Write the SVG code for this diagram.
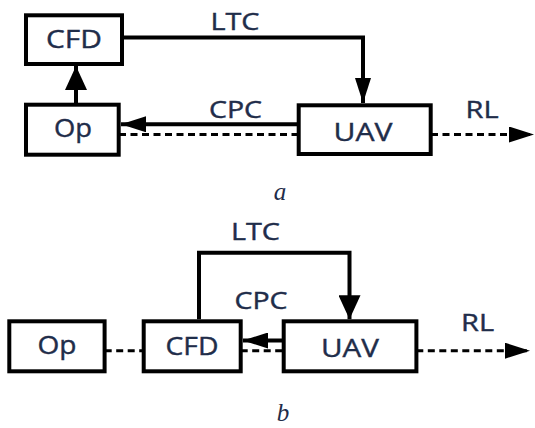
<svg xmlns="http://www.w3.org/2000/svg" width="535" height="428" viewBox="0 0 535 428">
<style>
.box{fill:#fff;stroke:#000;stroke-width:4}
.lbl{font-family:"Open Sans","DejaVu Sans",sans-serif;font-size:25px;fill:#1f2d4a;text-anchor:middle;stroke:#1f2d4a;stroke-width:0.4}
.clbl{font-family:"Open Sans","DejaVu Sans",sans-serif;font-size:23px;fill:#1f2d4a;text-anchor:middle;stroke:#1f2d4a;stroke-width:0.4}
.cap{font-family:"Liberation Serif",serif;font-style:italic;font-size:25px;fill:#1f2d4a;text-anchor:middle}
.solid{fill:none;stroke:#000;stroke-width:4}
.dash{fill:none;stroke:#000;stroke-width:3;stroke-dasharray:7 4.5}
</style>
<defs>
<marker id="big" markerUnits="userSpaceOnUse" markerWidth="24" markerHeight="22" refX="24" refY="11" orient="auto">
<path d="M0,0 L24,11 L0,22 z" fill="#000"/>
</marker>
<marker id="slim" markerUnits="userSpaceOnUse" markerWidth="25" markerHeight="16" refX="25" refY="8" orient="auto">
<path d="M0,0 L25,8 L0,16 z" fill="#000"/>
</marker>
</defs>
<g id="connectors">
<!-- part a -->
<path class="solid" d="M76,105 V66" marker-end="url(#big)"/>
<path class="solid" d="M122,37.5 H363 V103" marker-end="url(#slim)"/>
<path class="solid" d="M299,124.3 H121" marker-end="url(#slim)"/>
<path class="dash" d="M119,134.5 H299"/>
<path class="dash" d="M431,134.5 H534" marker-end="url(#slim)"/>
<!-- part b -->
<path class="solid" d="M199,319.3 V252.7 H349.5 V319.3" marker-end="url(#big)"/>
<path class="solid" d="M283.7,340.5 H243" marker-end="url(#slim)"/>
<path class="dash" d="M104.7,350.7 H143.7"/>
<path class="dash" d="M240.7,350.7 H283.7"/>
<path class="dash" d="M416.3,350.7 H530" marker-end="url(#slim)"/>
</g>
<g id="a-cfd"><rect class="box" x="26" y="15.3" width="96" height="48.7"/><text class="lbl" x="74" y="48.3" textLength="56" lengthAdjust="spacingAndGlyphs">CFD</text></g>
<g id="a-op"><rect class="box" x="26" y="104.7" width="92.7" height="50"/><text class="lbl" x="73" y="137.3" textLength="38" lengthAdjust="spacingAndGlyphs">Op</text></g>
<g id="a-uav"><rect class="box" x="298.7" y="105.3" width="132" height="48.7"/><text class="lbl" x="363" y="141" textLength="59" lengthAdjust="spacingAndGlyphs">UAV</text></g>
<g id="b-op"><rect class="box" x="9.3" y="321.3" width="95.3" height="50"/><text class="lbl" x="57" y="353.5" textLength="39" lengthAdjust="spacingAndGlyphs">Op</text></g>
<g id="b-cfd"><rect class="box" x="143.7" y="321.3" width="97" height="50"/><text class="lbl" x="192" y="355" textLength="53" lengthAdjust="spacingAndGlyphs">CFD</text></g>
<g id="b-uav"><rect class="box" x="283.7" y="321.3" width="132.7" height="50"/><text class="lbl" x="350" y="356.5" textLength="58" lengthAdjust="spacingAndGlyphs">UAV</text></g>
<g id="labels">
<text class="clbl" x="235" y="29.5" textLength="49" lengthAdjust="spacingAndGlyphs">LTC</text>
<text class="clbl" x="235.5" y="117.5" textLength="53" lengthAdjust="spacingAndGlyphs">CPC</text>
<text class="clbl" x="482" y="118" textLength="33" lengthAdjust="spacingAndGlyphs">RL</text>
<text class="clbl" x="255.5" y="239.5" textLength="49" lengthAdjust="spacingAndGlyphs">LTC</text>
<text class="clbl" x="261" y="309" textLength="53" lengthAdjust="spacingAndGlyphs">CPC</text>
<text class="clbl" x="477.5" y="330.7" textLength="33" lengthAdjust="spacingAndGlyphs">RL</text>
<text class="cap" x="280" y="200">a</text>
<text class="cap" x="283" y="421">b</text>
</g>
</svg>
